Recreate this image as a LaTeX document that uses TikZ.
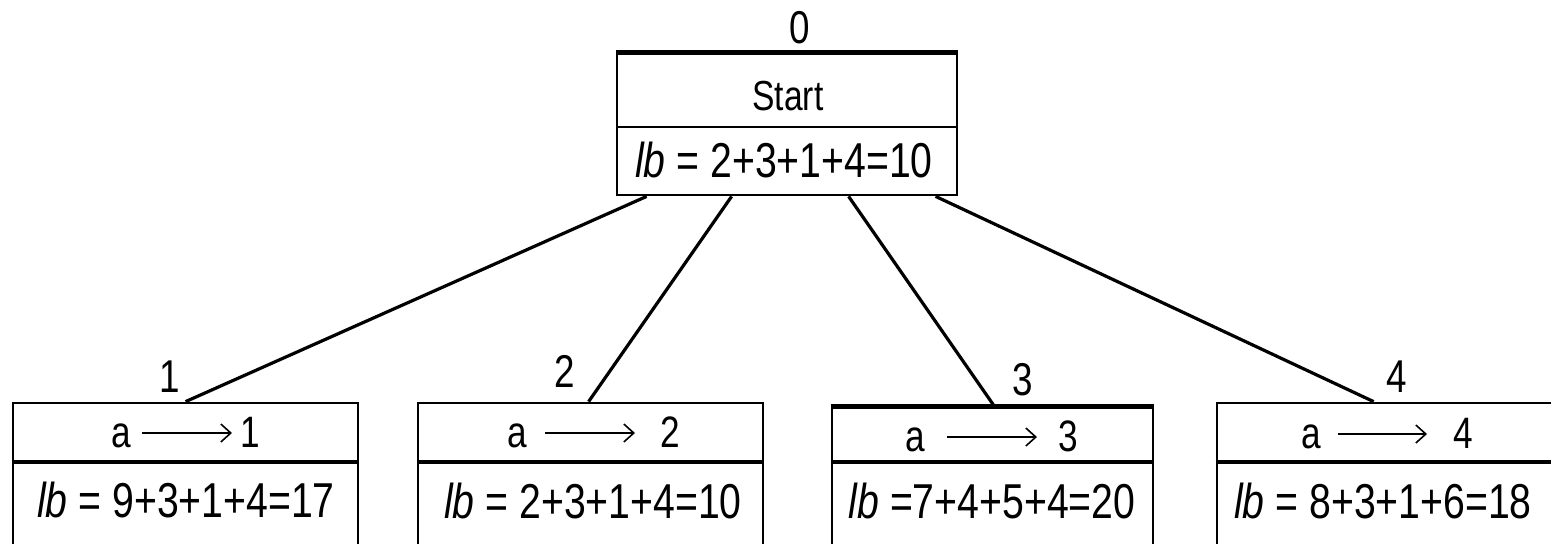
\documentclass[tikz,border=0pt]{standalone}
\usepackage{fontspec}
\setmainfont{Liberation Sans}
\usetikzlibrary{arrows.meta}
\newcommand{\nar}[1]{\scalebox{0.8}[1]{#1}}
\tikzset{
  frame/.style={draw, line width=1.4pt, inner sep=0pt},
  divthin/.style={line width=1.1pt},
  divthick/.style={line width=2.1pt},
  edgethick/.style={line width=2.6pt},
  conn/.style={line width=1.6pt},
  txt/.style={inner sep=0pt, anchor=base},
  lbfont/.style={font=\fontsize{24.5}{24.5}\selectfont},
  rowfont/.style={font=\fontsize{22}{22}\selectfont},
  startfont/.style={font=\fontsize{21}{21}\selectfont},
  lblfont/.style={font=\fontsize{23}{23}\selectfont},
  rowarrow/.style={line width=0.8pt, -{Straight Barb[length=5pt,width=9pt,line width=0.8pt]}},
}
\begin{document}
\begin{tikzpicture}[x=0.5pt,y=-0.5pt]
\clip (0,0) rectangle (1551,543);
\fill[white] (0,0) rectangle (1551,543);
% top box
\node[frame, minimum width=170pt, minimum height=70.5pt] (s0) at (787,124.5) {};
\draw[edgethick] (s0.north west) -- (s0.north east);
\draw[divthin] ([yshift=-37pt]s0.north west) -- ([yshift=-37pt]s0.north east);
\node[txt, lblfont] (l0) at (800,43) {\nar{0}};
\node[txt, startfont] (st) at (788,110) {\nar{Start}};
\node[txt, lbfont] (lb0) at (784,177) {\nar{\textit{lb} = 2+3+1+4=10}};
% bottom boxes
\node[frame, minimum width=172.5pt, minimum height=80pt] (b1) at (185.5,483) {};
\node[frame, minimum width=172.5pt, minimum height=80pt] (b2) at (590.5,483) {};
\node[frame, minimum width=160.5pt, minimum height=80pt] (b3) at (992.5,488) {};
\node[frame, minimum width=172.5pt, minimum height=80pt] (b4) at (1389.5,483) {};
\draw[edgethick] (b3.north west) -- (b3.north east);
\foreach \b/\d in {b1/30pt,b2/30pt,b3/27.5pt,b4/30pt}{
  \draw[divthick] ([yshift=-\d]\b.north west) -- ([yshift=-\d]\b.north east);
}
% row texts
\node[txt, rowfont] (a1) at (121,447) {\nar{a}};
\node[txt, rowfont] (n1) at (250,447) {\nar{1}};
\coordinate (r1s) at (142,433); \coordinate (r1e) at (232,433);
\draw[rowarrow] (r1s) -- (r1e);
\node[txt, rowfont] (a2) at (517,447) {\nar{a}};
\node[txt, rowfont] (n2) at (670,447) {\nar{2}};
\coordinate (r2s) at (545,433); \coordinate (r2e) at (635,433);
\draw[rowarrow] (r2s) -- (r2e);
\node[txt, rowfont] (a3) at (915,451) {\nar{a}};
\node[txt, rowfont] (n3) at (1068,451) {\nar{3}};
\coordinate (r3s) at (947,437); \coordinate (r3e) at (1037,437);
\draw[rowarrow] (r3s) -- (r3e);
\node[txt, rowfont] (a4) at (1311,448) {\nar{a}};
\node[txt, rowfont] (n4) at (1463,448) {\nar{4}};
\coordinate (r4s) at (1338,434); \coordinate (r4e) at (1427,434);
\draw[rowarrow] (r4s) -- (r4e);
% lb texts
\node[txt, lbfont] (lb1) at (186,517) {\nar{\textit{lb} = 9+3+1+4=17}};
\node[txt, lbfont] (lb2) at (593,518) {\nar{\textit{lb} = 2+3+1+4=10}};
\node[txt, lbfont] (lb3) at (992,518) {\nar{\textit{lb} =7+4+5+4=20}};
\node[txt, lbfont] (lb4) at (1383,518) {\nar{\textit{lb} = 8+3+1+6=18}};
% labels
\node[txt, lblfont] (l1) at (170,392) {\nar{1}};
\node[txt, lblfont] (l2) at (565,387) {\nar{2}};
\node[txt, lblfont] (l3) at (1023,395) {\nar{3}};
\node[txt, lblfont] (l4) at (1397,392) {\nar{4}};
% connectors
\draw[conn] ([xshift=15.5pt]s0.south west) -- ([xshift=87pt]b1.north west);
\draw[conn] ([xshift=58pt]s0.south west) -- ([xshift=86pt]b2.north west);
\draw[conn] ([xshift=116.5pt]s0.south west) -- ([xshift=82pt]b3.north west);
\draw[conn] ([xshift=160pt]s0.south west) -- ([xshift=79pt]b4.north west);
\end{tikzpicture}
\end{document}
